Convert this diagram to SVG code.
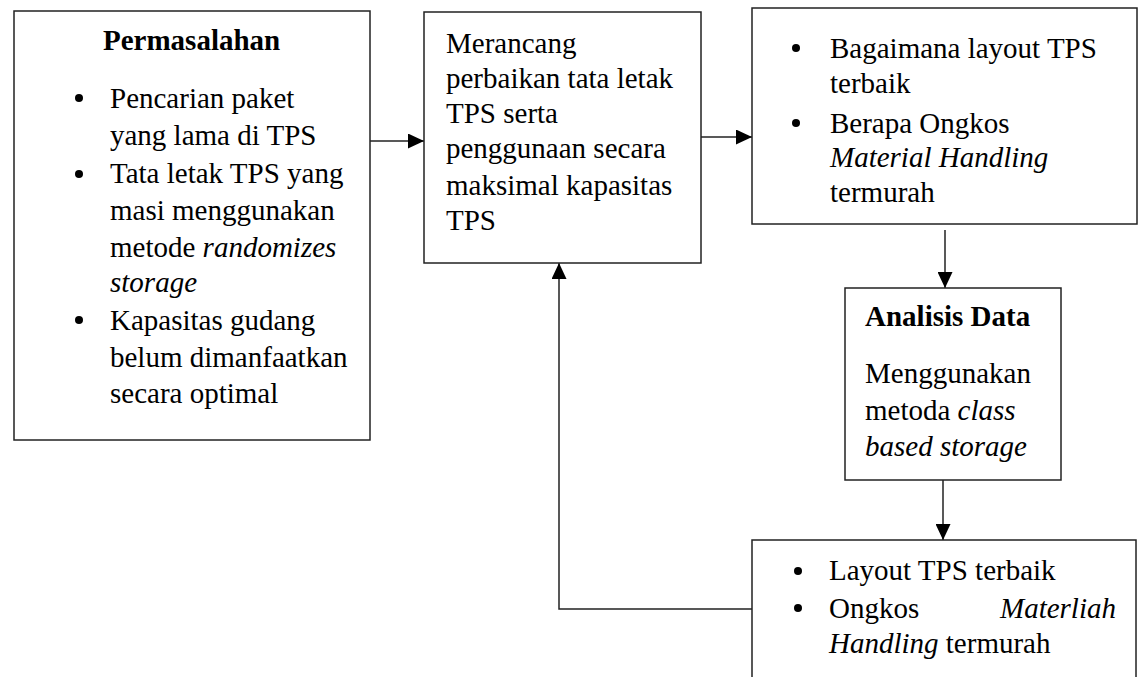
<svg xmlns="http://www.w3.org/2000/svg" width="1143" height="677" viewBox="0 0 1143 677">
<style>
  .box{fill:#fff;stroke:#222;stroke-width:1.5}
  .t{font-family:"Liberation Serif","Times New Roman",serif;font-size:29px;fill:#000}
  .b{font-weight:bold}
  .i{font-style:italic}
  .bul{fill:#000}
  .con{stroke:#222;stroke-width:1.5;fill:none}
</style>
<defs>
  <marker id="ah" markerWidth="16" markerHeight="15" refX="16" refY="7.5" orient="auto" markerUnits="userSpaceOnUse">
    <path d="M0,0 L16,7.5 L0,15 Z" fill="#000"/>
  </marker>
</defs>
<rect width="1143" height="677" fill="#fff"/>
<g id="connectors">
  <line class="con" x1="370" y1="141" x2="424" y2="141" marker-end="url(#ah)"/>
  <line class="con" x1="701" y1="137" x2="752" y2="137" marker-end="url(#ah)"/>
  <line class="con" x1="945" y1="230" x2="945" y2="288" marker-end="url(#ah)"/>
  <line class="con" x1="943" y1="480" x2="943" y2="540" marker-end="url(#ah)"/>
  <polyline class="con" points="752,609 559,609 559,263" marker-end="url(#ah)"/>
</g>
<g id="permasalahan">
  <rect class="box" x="14" y="11" width="356" height="429"/>
  <text class="t b" x="103" y="50">Permasalahan</text>
  <circle class="bul" cx="79" cy="98" r="4"/>
  <text class="t" x="110" y="108">Pencarian paket</text>
  <text class="t" x="110" y="145">yang lama di TPS</text>
  <circle class="bul" cx="79" cy="174" r="4"/>
  <text class="t" x="110" y="183">Tata letak TPS yang</text>
  <text class="t" x="110" y="220">masi menggunakan</text>
  <text class="t" x="110" y="257">metode <tspan class="i">randomizes</tspan></text>
  <text class="t i" x="110" y="292">storage</text>
  <circle class="bul" cx="79" cy="320" r="4"/>
  <text class="t" x="110" y="330">Kapasitas gudang</text>
  <text class="t" x="110" y="367">belum dimanfaatkan</text>
  <text class="t" x="110" y="403">secara optimal</text>
</g>
<g id="merancang">
  <rect class="box" x="424" y="12" width="277" height="251"/>
  <text class="t" x="446" y="53">Merancang</text>
  <text class="t" x="446" y="88">perbaikan tata letak</text>
  <text class="t" x="446" y="123">TPS serta</text>
  <text class="t" x="446" y="158">penggunaan secara</text>
  <text class="t" x="446" y="195">maksimal kapasitas</text>
  <text class="t" x="446" y="230">TPS</text>
</g>
<g id="pertanyaan">
  <rect class="box" x="752" y="8" width="385" height="216"/>
  <circle class="bul" cx="796" cy="48" r="4"/>
  <text class="t" x="830" y="58">Bagaimana layout TPS</text>
  <text class="t" x="830" y="93">terbaik</text>
  <circle class="bul" cx="796" cy="123" r="4"/>
  <text class="t" x="830" y="133">Berapa Ongkos</text>
  <text class="t i" x="830" y="167">Material Handling</text>
  <text class="t" x="830" y="202">termurah</text>
</g>
<g id="analisis">
  <rect class="box" x="845" y="288" width="216" height="192"/>
  <text class="t b" x="865" y="326">Analisis Data</text>
  <text class="t" x="865" y="383">Menggunakan</text>
  <text class="t" x="865" y="420">metoda <tspan class="i">class</tspan></text>
  <text class="t i" x="865" y="456">based storage</text>
</g>
<g id="hasil">
  <rect class="box" x="752" y="540" width="384" height="160"/>
  <circle class="bul" cx="798" cy="571" r="4"/>
  <text class="t" x="829" y="580">Layout TPS terbaik</text>
  <circle class="bul" cx="798" cy="608" r="4"/>
  <text class="t" x="829" y="618">Ongkos</text>
  <text class="t i" x="1116" y="618" text-anchor="end">Materliah</text>
  <text class="t" x="829" y="653"><tspan class="i">Handling</tspan> termurah</text>
</g>
</svg>
